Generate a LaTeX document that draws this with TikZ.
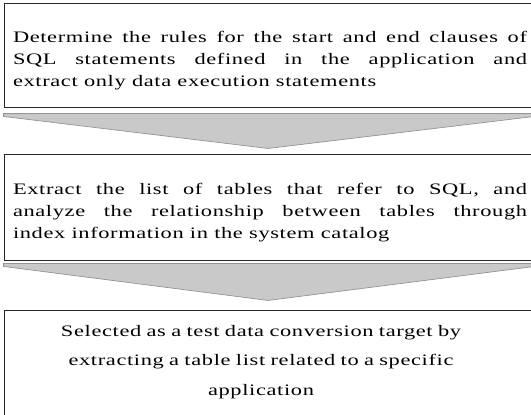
\documentclass[tikz,border=0pt]{standalone}
\usepackage{fontspec}
\setmainfont{Liberation Serif}[FakeStretch=1.4,LetterSpace=4]
\usetikzlibrary{calc}
\tikzset{
  stepbox/.style={draw=black!85, line width=0.9pt, minimum width=530pt, inner sep=0pt},
  bodytext/.style={text width=514pt, align=justify, inner sep=0pt, font=\fontsize{16pt}{22pt}\selectfont},
  centertext/.style={text width=480pt, align=center, inner sep=0pt, font=\fontsize{16pt}{29.5pt}\selectfont},
  chevron/.style={fill=black!21, draw=black!42, line width=0.7pt}
}
\begin{document}
\begin{tikzpicture}[x=1pt,y=1pt]
\useasboundingbox (0,0) rectangle (531,-415);
\clip (0,0) rectangle (531,-415);
\node[stepbox, minimum height=104pt] (b1) at (269,-55) {};
\node[bodytext] (t1) at (270,-61) {Determine the rules for the start and end clauses of\linebreak SQL statements defined in the application and\linebreak extract only data execution statements};
\node[stepbox, minimum height=106pt] (b2) at (269,-207) {};
\node[bodytext] (t2) at (270,-213) {Extract the list of tables that refer to SQL, and\linebreak analyze the relationship between tables through\linebreak index information in the system catalog};
\node[stepbox, minimum height=110pt] (b3) at (269,-365) {};
\node[centertext] (t3) at (261,-362) {Selected as a test data conversion target by\\ extracting a table list related to a specific\\ application};
\draw[chevron] ($(b1.south west)+(0,-6)$) -- ($(b1.south west)+(0,-9)$) -- ($(b1.south)+(-1,-41)$) -- ($(b1.south east)+(0,-9)$) -- ($(b1.south east)+(0,-6)$) -- cycle;
\draw[chevron] ($(b2.south west)+(0,-3)$) -- ($(b2.south west)+(0,-6)$) -- ($(b2.south)+(-1,-40)$) -- ($(b2.south east)+(0,-6)$) -- ($(b2.south east)+(0,-3)$) -- cycle;
\end{tikzpicture}
\end{document}
